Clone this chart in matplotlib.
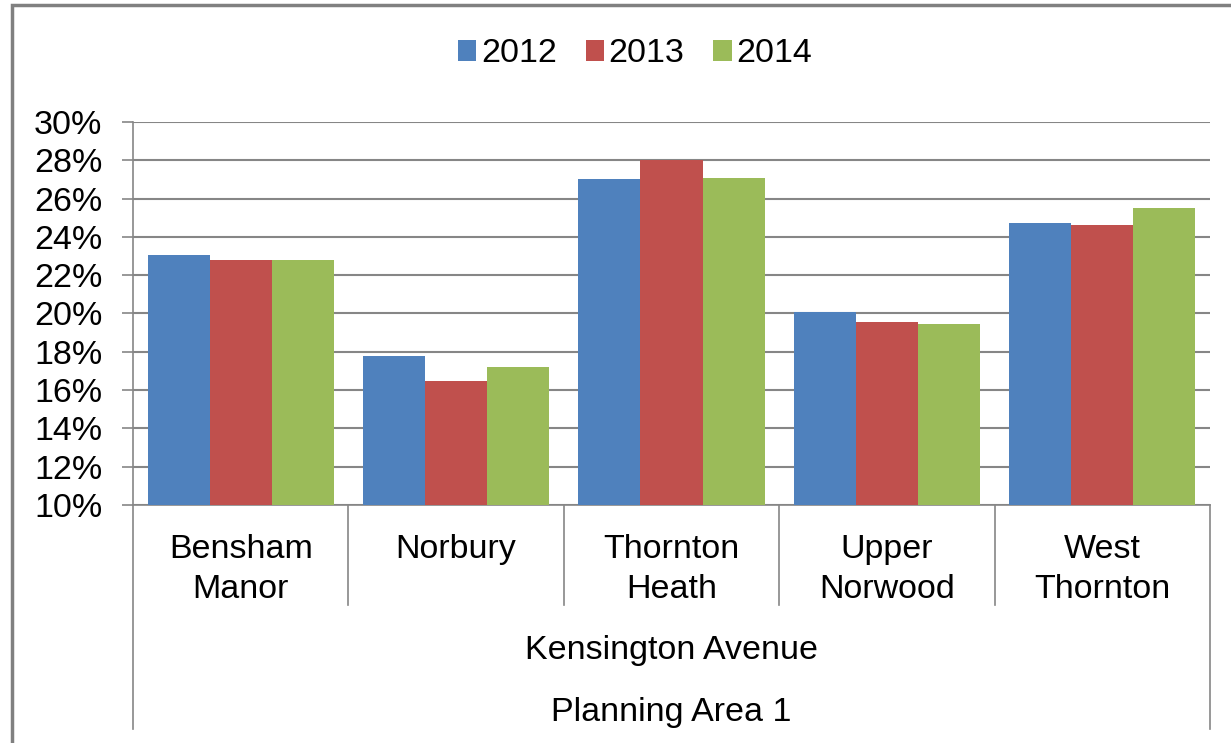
import matplotlib
matplotlib.use("Agg")
import matplotlib.pyplot as plt
from matplotlib.patches import Rectangle
from matplotlib.lines import Line2D
import numpy as np

plt.rcParams['font.family'] = ['Liberation Sans', 'DejaVu Sans']

wards = ["Bensham\nManor", "Norbury", "Thornton\nHeath", "Upper\nNorwood", "West\nThornton"]
years = ["2012", "2013", "2014"]
v2012 = [23.05, 17.8, 27.0, 20.1, 24.75]
v2013 = [22.8, 16.5, 28.0, 19.55, 24.6]
v2014 = [22.8, 17.2, 27.1, 19.45, 25.5]
ticks = [10, 12, 14, 16, 18, 20, 22, 24, 26, 28, 30]
group_label = "Kensington Avenue"
area_label = "Planning Area 1"

colors = ["#4F81BD", "#C0504D", "#9BBB59"]
grid_col = "#868686"
fs = 24.5

fig = plt.figure(figsize=(12.31, 7.43), dpi=100)
ax = fig.add_axes([133/1231, 1-505/743, 1077/1231, 383/743])

x = np.arange(len(wards))
w = 62/215
for i, (vals, c) in enumerate(zip([v2012, v2013, v2014], colors)):
    ax.bar(x + (i-1)*w, np.array(vals)-10, width=w, bottom=10, color=c,
           edgecolor="none", label=years[i], zorder=3)

ax.set_xlim(-0.5, len(wards)-0.5)
ax.set_ylim(10, 30)
ax.set_yticks(ticks)
ax.set_yticklabels([f"{t}%" for t in ticks], fontsize=fs)
ax.yaxis.grid(True, color=grid_col, linewidth=1.5, zorder=0)
ax.tick_params(axis="y", length=8, width=1.2, color=grid_col, pad=14)
ax.set_xticks([])
for s in ["top", "right"]:
    ax.spines[s].set_visible(False)
ax.spines["left"].set_color(grid_col)
ax.spines["bottom"].set_color(grid_col)
ax.spines["left"].set_linewidth(1.2)
ax.spines["bottom"].set_linewidth(1.2)

# multi-level category axis below the plot
tr = ax.get_xaxis_transform()
sep_low = -100/383
deep_low = -224/383
for b in np.arange(0.5, len(wards)-1):
    ax.add_line(Line2D([b, b], [0, sep_low], transform=tr, color=grid_col,
                       linewidth=1.2, clip_on=False))
for b in [-0.5, len(wards)-0.5]:
    ax.add_line(Line2D([b, b], [0, deep_low], transform=tr, color=grid_col,
                       linewidth=1.2, clip_on=False))
for xi, name in zip(x, wards):
    ax.text(xi, -29/383, name, transform=tr, ha="center", va="top",
            fontsize=fs, linespacing=1.36)
ax.text(2, -146/383, group_label, transform=tr, ha="center", va="center", fontsize=fs)
ax.text(2, -207/383, area_label, transform=tr, ha="center", va="center", fontsize=fs)

fig.legend(loc="center", bbox_to_anchor=(635/1231, 1-54/743), ncol=3, frameon=False,
           fontsize=fs, handlelength=0.53, handleheight=0.55, handletextpad=0.15,
           columnspacing=0.85, borderpad=0, borderaxespad=0)

# chart frame
fig.add_artist(Rectangle((12/1231, -0.1), 1.1, 1.1-5/743, transform=fig.transFigure,
                         fill=False, edgecolor="#808080", linewidth=2.5))

fig.savefig("out.png", dpi=100)
